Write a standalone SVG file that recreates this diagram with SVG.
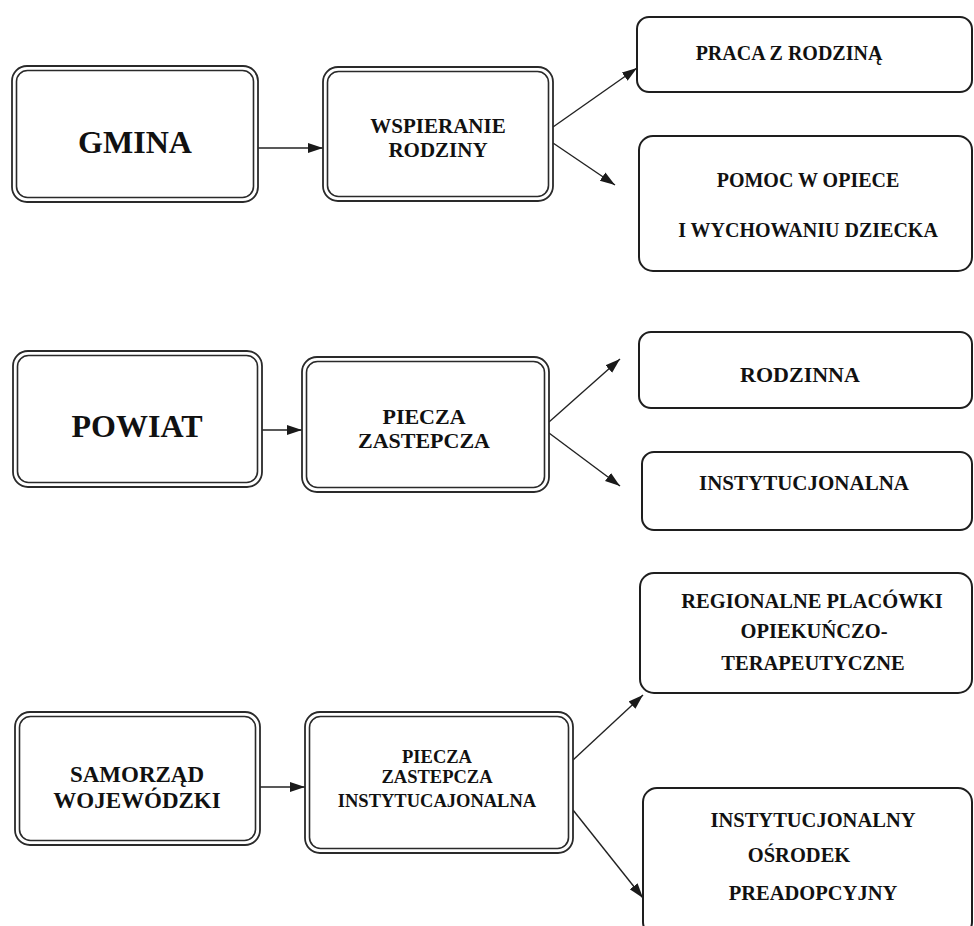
<svg xmlns="http://www.w3.org/2000/svg" width="974" height="926" viewBox="0 0 974 926">
<defs>
<style>
.o{fill:#fff;stroke:#2a2a2a;stroke-width:1.8}
.i{fill:none;stroke:#2a2a2a;stroke-width:1.6}
.s{fill:#fff;stroke:#1e1e1e;stroke-width:2}
.t{font-family:"Liberation Serif","Times New Roman",serif;font-weight:bold;fill:#111;text-anchor:middle}
.c{stroke:#222;stroke-width:1.4;fill:none;marker-end:url(#ah)}
</style>
<marker id="ah" markerUnits="userSpaceOnUse" markerWidth="16" markerHeight="12" refX="15" refY="6" orient="auto">
<path d="M0,1 L15,6 L0,11 Z" fill="#1a1a1a"/>
</marker>
</defs>
<rect width="974" height="926" fill="#fff"/>
<g id="connectors">
<line class="c" x1="258" y1="148" x2="323" y2="148"/>
<line class="c" x1="553" y1="127" x2="637" y2="68"/>
<line class="c" x1="553" y1="143" x2="615" y2="185"/>
<line class="c" x1="262" y1="430" x2="302" y2="430"/>
<line class="c" x1="549" y1="422" x2="620" y2="359"/>
<line class="c" x1="549" y1="433" x2="620" y2="486"/>
<line class="c" x1="260" y1="787" x2="305" y2="787"/>
<line class="c" x1="573" y1="760" x2="643" y2="695"/>
<line class="c" x1="573" y1="810" x2="643" y2="898"/>
</g>
<g id="gmina">
<rect class="o" x="12" y="66" width="246" height="136" rx="15"/>
<rect class="i" x="16.5" y="70.5" width="237" height="127" rx="11"/>
<text class="t" x="135" y="153" font-size="32">GMINA</text>
</g>
<g id="wspieranie">
<rect class="o" x="323" y="67" width="230" height="134" rx="15"/>
<rect class="i" x="327.5" y="71.5" width="221" height="125" rx="11"/>
<text class="t" x="438" y="133" font-size="21">WSPIERANIE</text>
<text class="t" x="438" y="157" font-size="21">RODZINY</text>
</g>
<g id="praca">
<rect class="s" x="637" y="17" width="335" height="75" rx="12"/>
<text class="t" x="789" y="60" font-size="20">PRACA Z RODZINĄ</text>
</g>
<g id="pomoc">
<rect class="s" x="639" y="136" width="333" height="135" rx="14"/>
<text class="t" x="808" y="187" font-size="20">POMOC W OPIECE</text>
<text class="t" x="808" y="237" font-size="20">I WYCHOWANIU DZIECKA</text>
</g>
<g id="powiat">
<rect class="o" x="13" y="351" width="249" height="136" rx="15"/>
<rect class="i" x="17.5" y="355.5" width="240" height="127" rx="11"/>
<text class="t" x="137" y="437" font-size="32">POWIAT</text>
</g>
<g id="piecza">
<rect class="o" x="302" y="357" width="247" height="135" rx="15"/>
<rect class="i" x="306.5" y="361.5" width="238" height="126" rx="11"/>
<text class="t" x="424" y="424" font-size="22">PIECZA</text>
<text class="t" x="424" y="448" font-size="22">ZASTEPCZA</text>
</g>
<g id="rodzinna">
<rect class="s" x="639" y="332" width="333" height="76" rx="12"/>
<text class="t" x="800" y="382" font-size="22">RODZINNA</text>
</g>
<g id="instytucjonalna">
<rect class="s" x="642" y="452" width="330" height="78" rx="12"/>
<text class="t" x="804" y="490" font-size="21">INSTYTUCJONALNA</text>
</g>
<g id="samorzad">
<rect class="o" x="15" y="712" width="245" height="133" rx="15"/>
<rect class="i" x="19.5" y="716.5" width="236" height="124" rx="11"/>
<text class="t" x="137" y="782" font-size="23">SAMORZĄD</text>
<text class="t" x="137" y="808" font-size="23">WOJEWÓDZKI</text>
</g>
<g id="piecza-inst">
<rect class="o" x="305" y="712" width="268" height="141" rx="15"/>
<rect class="i" x="309.5" y="716.5" width="259" height="132" rx="11"/>
<text class="t" x="437" y="763" font-size="18.5">PIECZA</text>
<text class="t" x="437" y="783" font-size="18.5">ZASTEPCZA</text>
<text class="t" x="437" y="807" font-size="18.5">INSTYTUCAJONALNA</text>
</g>
<g id="regionalne">
<rect class="s" x="640" y="573" width="332" height="120" rx="14"/>
<text class="t" x="812" y="608" font-size="20.5">REGIONALNE PLACÓWKI</text>
<text class="t" x="814" y="638" font-size="20.5">OPIEKUŃCZO-</text>
<text class="t" x="813" y="670" font-size="20.5">TERAPEUTYCZNE</text>
</g>
<g id="osrodek">
<rect class="s" x="643" y="788" width="329" height="148" rx="14"/>
<text class="t" x="813" y="827" font-size="20.5">INSTYTUCJONALNY</text>
<text class="t" x="799" y="862" font-size="20.5">OŚRODEK</text>
<text class="t" x="813" y="900" font-size="20.5">PREADOPCYJNY</text>
</g>
</svg>
